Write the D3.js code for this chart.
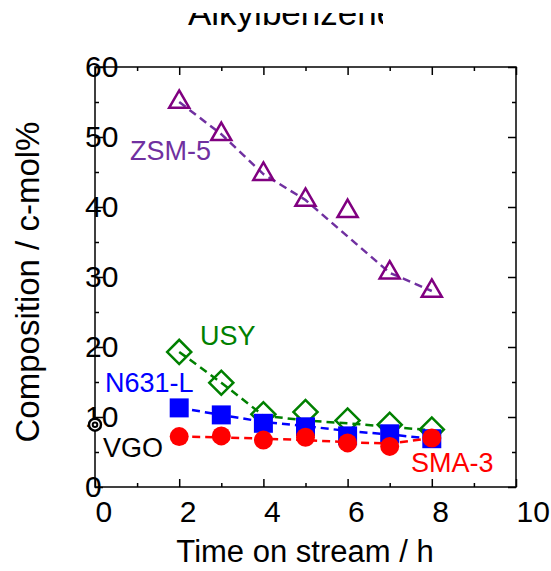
<!DOCTYPE html>
<html>
<head>
<meta charset="UTF-8">
<title>Alkylbenzene</title>
<style>
  body { margin: 0; background: #fff; }
  svg text { font-family: "Liberation Sans", Arial, sans-serif; }
  .tick-label { font-size: 30px; }
  .series-label { font-size: 27px; }
</style>
<script src="https://d3js.org/d3.v7.min.js"></script>
</head>
<body>
<div id="chart"></div>
<script>
// data
const hours = [2, 3, 4, 5, 6, 7, 8];
const zsm5 = [55.0, 50.4, 44.7, 41.0, 39.4, 30.6, 28.0];
const zsm5Line = [55.0, 50.4, 44.7, 41.0, 35.8, 30.6, 28.0];
const usy = [19.3, 14.9, 10.4, 10.7, 9.5, 8.9, 8.2];
const usyLine = [19.3, 14.9, 10.2, 9.5, 9.1, 8.6, 8.1];
const n631 = [11.3, 10.3, 9.1, 8.6, 7.3, 7.6, 6.9];
const n631Line = [11.3, 10.3, 9.3, 8.7, 8.0, 7.5, 6.9];
const sma3 = [7.2, 7.3, 6.7, 7.1, 6.3, 5.8, 7.0];
const sma3Line = [7.2, 7.1, 6.9, 6.7, 6.4, 6.2, 7.0];
const vgo = {t: 0, v: 8.9};
const xMajor = [0, 2, 4, 6, 8, 10];
const xMinor = [1, 3, 5, 7, 9];
const yMajor = [0, 10, 20, 30, 40, 50, 60];
const yMinor = [5, 15, 25, 35, 45, 55];

const W = 551, H = 571;
const margin = {top: 67, right: 35, bottom: 84, left: 95};
const width = W - margin.left - margin.right;
const height = H - margin.top - margin.bottom;

const svg = d3.select("#chart").append("svg")
    .attr("width", W).attr("height", H);

// title, cut off like in the source image
svg.append("clipPath").attr("id", "titleClip")
  .append("rect").attr("x", 0).attr("y", 13).attr("width", 383).attr("height", 40);
svg.append("text")
    .attr("clip-path", "url(#titleClip)")
    .attr("x", 188).attr("y", 25)
    .attr("font-size", 35)
    .text("Alkylbenzene");

const g = svg.append("g").attr("transform", `translate(${margin.left},${margin.top})`);

const x = d3.scaleLinear().domain([0, 10]).range([0, width]);
const y = d3.scaleLinear().domain([0, 60]).range([height, 0]);

function styleAxis(sel) {
  sel.select(".domain").remove();
  sel.selectAll(".tick line").attr("stroke", "#000").attr("stroke-width", 1.5);
}

// minor ticks
g.append("g").attr("transform", `translate(0,${height})`)
  .call(d3.axisBottom(x).tickValues(xMinor).tickSize(-4).tickFormat("")).call(styleAxis);
g.append("g")
  .call(d3.axisTop(x).tickValues(xMinor).tickSize(-4).tickFormat("")).call(styleAxis);
g.append("g")
  .call(d3.axisLeft(y).tickValues(yMinor).tickSize(-4).tickFormat("")).call(styleAxis);
g.append("g").attr("transform", `translate(${width},0)`)
  .call(d3.axisRight(y).tickValues(yMinor).tickSize(-4).tickFormat("")).call(styleAxis);

// major ticks
const xAx = g.append("g").attr("transform", `translate(0,${height})`)
  .call(d3.axisBottom(x).tickValues(xMajor).tickSize(-8)).call(styleAxis);
xAx.selectAll("text")
  .attr("class", "tick-label").attr("fill", "#000")
  .attr("text-anchor", "start").attr("x", 0).attr("y", 14);
g.append("g")
  .call(d3.axisTop(x).tickValues(xMajor).tickSize(-8).tickFormat("")).call(styleAxis);
const yAx = g.append("g")
  .call(d3.axisLeft(y).tickValues(yMajor).tickSize(-8)).call(styleAxis);
yAx.selectAll("text")
  .attr("class", "tick-label").attr("fill", "#000")
  .attr("text-anchor", "start").attr("x", -10);
g.append("g").attr("transform", `translate(${width},0)`)
  .call(d3.axisRight(y).tickValues(yMajor).tickSize(-8).tickFormat("")).call(styleAxis);

// frame
g.append("rect").attr("width", width).attr("height", height)
  .attr("fill", "none").attr("stroke", "#000").attr("stroke-width", 1.5);

// axis titles
svg.append("text")
  .attr("font-size", 31)
  .attr("text-anchor", "middle")
  .attr("x", 305).attr("y", 562)
  .text("Time on stream / h");
svg.append("text")
  .attr("font-size", 33)
  .attr("text-anchor", "middle")
  .attr("transform", "translate(39,282) rotate(-90)")
  .text("Composition / c-mol%");

const line = d3.line().x((d, i) => x(hours[i])).y(d => y(d));

function drawSeries(vals, lineVals, lineColor, markerColor, symbol, size, filled, rotate) {
  g.append("path").datum(lineVals)
    .attr("d", line)
    .attr("fill", "none")
    .attr("stroke", lineColor)
    .attr("stroke-width", 2.5)
    .attr("stroke-dasharray", "8,5");
  g.selectAll(null).data(vals).enter().append("path")
    .attr("d", d3.symbol().type(symbol).size(size))
    .attr("transform", (d, i) => `translate(${x(hours[i])},${y(d)})` + (rotate ? ` rotate(${rotate})` : ""))
    .attr("fill", filled ? markerColor : "#fff")
    .attr("fill-opacity", filled ? 1 : 0)
    .attr("stroke", markerColor)
    .attr("stroke-width", filled ? 0 : 2.5);
}

drawSeries(zsm5, zsm5Line, "#7030A0", "#800080", d3.symbolTriangle, 175, false, 0);
drawSeries(usy, usyLine, "#008000", "#008000", d3.symbolSquare, 290, false, 45);
drawSeries(n631, n631Line, "#0000FF", "#0000FF", d3.symbolSquare, 361, true, 0);
drawSeries(sma3, sma3Line, "#FF0000", "#FF0000", d3.symbolCircle, 283, true, 0);

// VGO feed point
g.append("circle").attr("cx", x(vgo.t)).attr("cy", y(vgo.v)).attr("r", 6)
  .attr("fill", "#fff").attr("stroke", "#000").attr("stroke-width", 2.4);
g.append("circle").attr("cx", x(vgo.t)).attr("cy", y(vgo.v)).attr("r", 2.3)
  .attr("fill", "none").attr("stroke", "#000").attr("stroke-width", 2);

// series labels
const labels = [
  {text: "ZSM-5", color: "#7030A0", x: 130, y: 160},
  {text: "USY", color: "#008000", x: 200, y: 345},
  {text: "N631-L", color: "#0000FF", x: 105, y: 392},
  {text: "VGO", color: "#000", x: 103, y: 457},
  {text: "SMA-3", color: "#FF0000", x: 411, y: 472}
];
svg.selectAll(".series-label").data(labels).enter().append("text")
  .attr("class", "series-label")
  .attr("x", d => d.x).attr("y", d => d.y)
  .attr("fill", d => d.color)
  .text(d => d.text);
</script>
</body>
</html>
